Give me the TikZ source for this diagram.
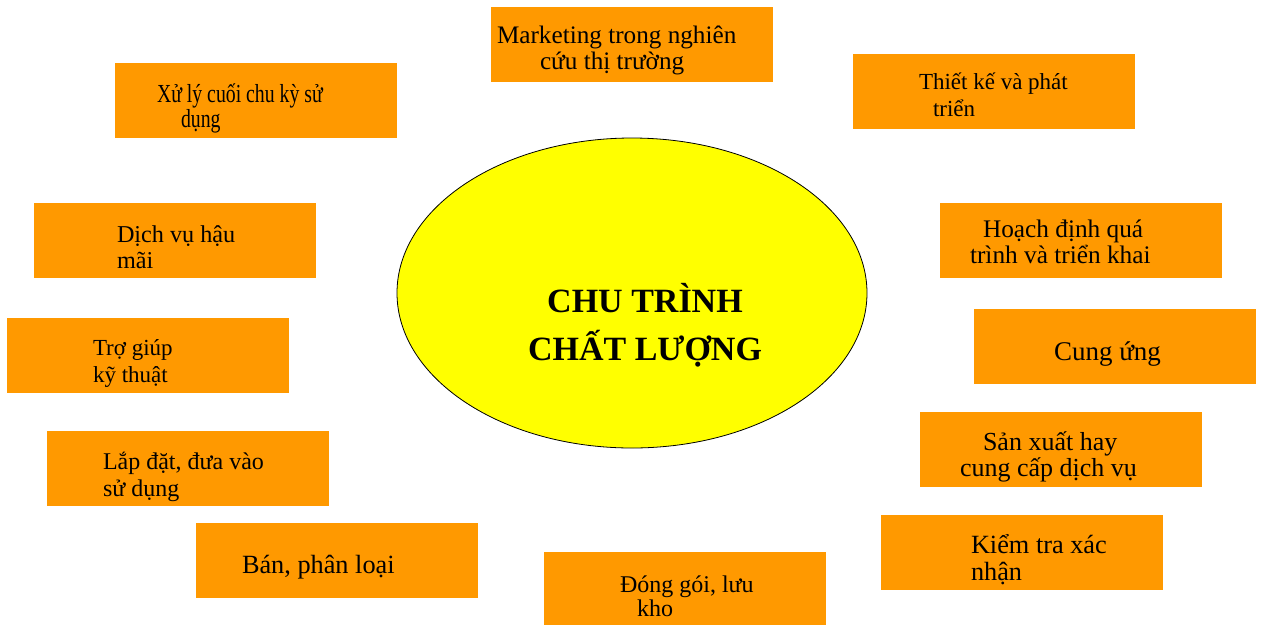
\documentclass[tikz,border=0pt]{standalone}
\usepackage{fontspec}
\setmainfont{Liberation Serif}
\usepackage{graphicx}
\usetikzlibrary{shapes.geometric}
\definecolor{boxorange}{RGB}{255,153,0}
\definecolor{ellyellow}{RGB}{255,255,0}
\begin{document}
\begin{tikzpicture}[x=1pt,y=-1pt,
  box/.style={rectangle, fill=boxorange, minimum width=282pt, minimum height=75pt, inner sep=0pt, outer sep=0pt, anchor=north west},
  txt/.style={inner sep=0pt, outer sep=0pt, anchor=base west, font=\fontsize{#1}{#1}\selectfont},
  ctxt/.style={inner sep=0pt, outer sep=0pt, anchor=base, font=\fontsize{34}{34}\selectfont\bfseries}]
\useasboundingbox (0,0) rectangle (1262,625);
% boxes
\node[box] (b1) at (491,7) {};
\node[box] (b2) at (853,54) {};
\node[box] (b3) at (940,203) {};
\node[box] (b4) at (974,309) {};
\node[box] (b5) at (920,412) {};
\node[box] (b6) at (881,515) {};
\node[box, minimum height=73pt] (b7) at (544,552) {};
\node[box] (b8) at (196,523) {};
\node[box] (b9) at (47,431) {};
\node[box] (b10) at (7,318) {};
\node[box] (b11) at (34,203) {};
\node[box] (b12) at (115,63) {};
% centre ellipse
\node[ellipse, draw=black, line width=0.8pt, fill=ellyellow, minimum width=470pt, minimum height=310pt, inner sep=0pt] (c) at (632,293) {};
\node[ctxt] (c1) at (645,312) {CHU TRÌNH};
\node[ctxt] (c2) at (645,360) {CHẤT LƯỢNG};
% texts
\node[txt=25.2] (t1a) at (497,43) {Marketing trong nghiên};
\node[txt=25.2] (t1b) at (540,69) {cứu thị trường};
\node[txt=23] (t2a) at (919,89) {Thiết kế và phát};
\node[txt=23] (t2b) at (933,116) {triển};
\node[txt=25.3] (t3a) at (983,237) {Hoạch định quá};
\node[txt=25.3] (t3b) at (970,263) {trình và triển khai};
\node[txt=27] (t4) at (1054,360) {Cung ứng};
\node[txt=26] (t5a) at (983,450) {Sản xuất hay};
\node[txt=26] (t5b) at (960,476) {cung cấp dịch vụ};
\node[txt=26.3] (t6a) at (971,553) {Kiểm tra xác};
\node[txt=26.3] (t6b) at (971,580) {nhận};
\node[txt=24] (t7a) at (620,592) {Đóng gói, lưu};
\node[txt=24] (t7b) at (637,616) {kho};
\node[txt=26.3] (t8) at (242,573) {Bán, phân loại};
\node[txt=24] (t9a) at (103,469) {Lắp đặt, đưa vào};
\node[txt=24] (t9b) at (103,496) {sử dụng};
\node[txt=23] (t10a) at (93,355) {Trợ giúp};
\node[txt=23] (t10b) at (93,382) {kỹ thuật};
\node[txt=24.2] (t11a) at (117,242) {Dịch vụ hậu};
\node[txt=24.2] (t11b) at (117,268) {mãi};
\node[txt=26] (t12a) at (157,102) {\scalebox{0.76}[1]{Xử lý cuối chu kỳ sử}};
\node[txt=26] (t12b) at (181,127) {\scalebox{0.76}[1]{dụng}};
\end{tikzpicture}
\end{document}
